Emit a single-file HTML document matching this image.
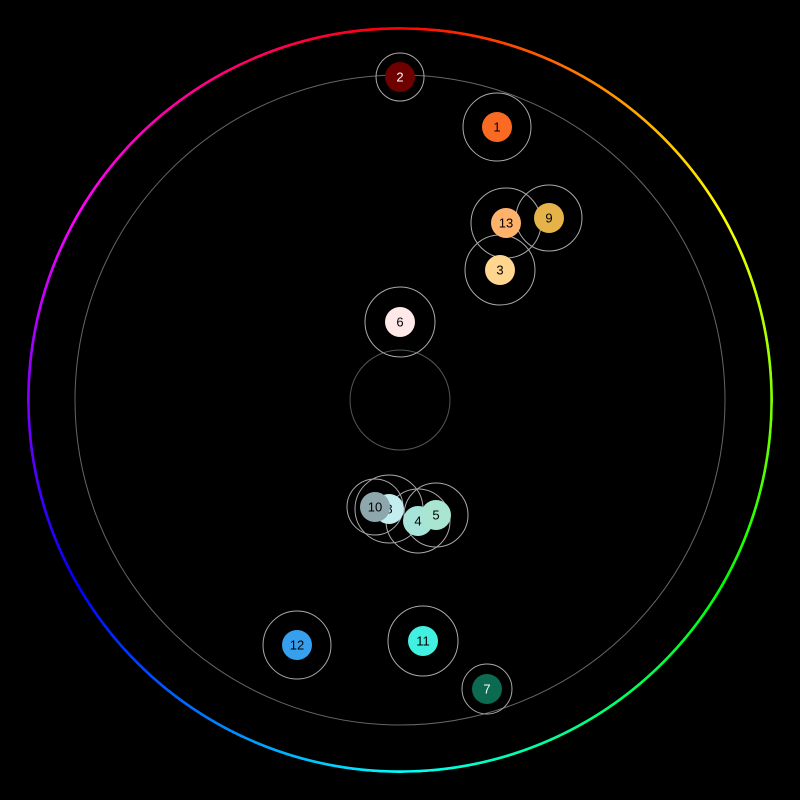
<!DOCTYPE html>
<html><head><meta charset="utf-8"><style>
html,body{margin:0;padding:0;background:#000;width:800px;height:800px;overflow:hidden}
#ring{position:absolute;left:27px;top:27px;width:746px;height:746px;border-radius:50%;
background:conic-gradient(from 0deg,#ff0000,#ffff00 16.67%,#00ff00 33.33%,#00ffff 50%,#0000ff 66.67%,#ff00ff 83.33%,#ff0000);
-webkit-mask:radial-gradient(circle,transparent 370px,#000 370.5px,#000 373px,transparent 373.5px);
mask:radial-gradient(circle,transparent 370px,#000 370.5px,#000 373px,transparent 373.5px)}
svg{position:absolute;left:0;top:0}
text{font-family:"Liberation Sans",sans-serif;font-size:13px;text-anchor:middle;dominant-baseline:central}
</style></head><body>
<div id="ring"></div>
<svg width="800" height="800">
<circle cx="400" cy="400" r="325" fill="none" stroke="#666" stroke-width="1"/>
<circle cx="400" cy="400" r="50" fill="none" stroke="#555" stroke-width="1"/>
<g fill="none" stroke="#aaa" stroke-width="1">
<circle cx="400" cy="77" r="24"/>
<circle cx="497" cy="127" r="34"/>
<circle cx="506" cy="223" r="35"/>
<circle cx="549" cy="218" r="33"/>
<circle cx="500" cy="270" r="35"/>
<circle cx="400" cy="322" r="35"/>
<circle cx="375" cy="507" r="28"/>
<circle cx="389" cy="509" r="34"/>
<circle cx="418" cy="521" r="32"/>
<circle cx="436" cy="515" r="32"/>
<circle cx="297" cy="645" r="34"/>
<circle cx="423" cy="641" r="35"/>
<circle cx="487" cy="689" r="25"/>
</g>
<circle cx="400" cy="77" r="15" fill="#6e0000"/><text x="400" y="77" fill="#fff">2</text>
<circle cx="497" cy="127" r="15" fill="#fb6a22"/><text x="497" y="127">1</text>
<circle cx="549" cy="218" r="15" fill="#e6b24a"/><text x="549" y="218">9</text>
<circle cx="506" cy="223" r="15" fill="#ffb26b"/><text x="506" y="223">13</text>
<circle cx="500" cy="270" r="15" fill="#ffd68f"/><text x="500" y="270">3</text>
<circle cx="400" cy="322" r="15" fill="#ffe8e8"/><text x="400" y="322">6</text>
<circle cx="389" cy="509" r="15" fill="#c2eef0"/><text x="389" y="509">8</text>
<circle cx="375" cy="507" r="15" fill="#8ea7ad"/><text x="375" y="507">10</text>
<circle cx="418" cy="521" r="15" fill="#a6e4da"/><text x="418" y="521">4</text>
<circle cx="436" cy="515" r="15" fill="#a8e6d2"/><text x="436" y="515">5</text>
<circle cx="297" cy="645" r="15" fill="#36a0ee"/><text x="297" y="645">12</text>
<circle cx="423" cy="641" r="15" fill="#42f0e2"/><text x="423" y="641">11</text>
<circle cx="487" cy="689" r="15" fill="#0c6a50"/><text x="487" y="689" fill="#fff">7</text>
</svg>
</body></html>
